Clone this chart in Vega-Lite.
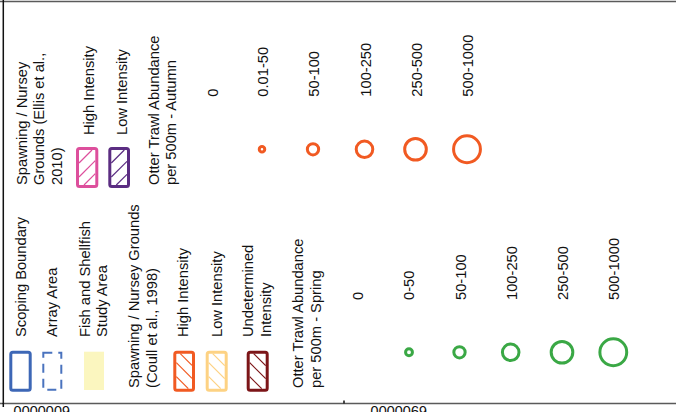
{
  "$schema": "https://vega.github.io/schema/vega-lite/v6.json",
  "width": 676,
  "height": 412,
  "autosize": {"type": "none"},
  "padding": 0,
  "background": "white",
  "config": {"view": {"stroke": null}},
  "datasets": {
    "frame": [
      {"x": 0, "y": 1.6, "x2": 676, "y2": 1.6, "key": "grey"},
      {"x": 0, "y": 403.5, "x2": 676, "y2": 403.5, "key": "grey"},
      {"x": 3.3, "y": 0, "x2": 3.3, "y2": 404, "key": "black"},
      {"x": 3.3, "y": 403, "x2": 3.3, "y2": 407, "key": "black"},
      {"x": 344, "y": 400.5, "x2": 344, "y2": 403.5, "key": "black"}
    ],
    "swatches": [
      {"item": "Scoping Boundary", "x": 10.8, "x2": 30.2, "y": 352.2, "y2": 390.2, "key": "blue"},
      {"item": "High Intensity (Coull)", "x": 174.8, "x2": 193.5, "y": 352.2, "y2": 390.2, "key": "orange"},
      {"item": "Low Intensity (Coull)", "x": 207.2, "x2": 226.2, "y": 352.2, "y2": 390.2, "key": "lightorange"},
      {"item": "Undetermined Intensity", "x": 248.2, "x2": 267.2, "y": 352.2, "y2": 390.2, "key": "darkred"},
      {"item": "High Intensity (Ellis)", "x": 77.5, "x2": 96.8, "y": 148.5, "y2": 186.5, "key": "pink"},
      {"item": "Low Intensity (Ellis)", "x": 109.8, "x2": 128.5, "y": 148.5, "y2": 186.5, "key": "purple"}
    ],
    "dashed": [
      {"item": "Array Area", "x": 43.3, "x2": 61.3, "y": 352.7, "y2": 389.7, "key": "blue2"}
    ],
    "filledrect": [
      {"item": "Fish and Shellfish Study Area", "x": 84, "x2": 104, "y": 351.7, "y2": 390}
    ],
    "hatch": [
      {"x": 180.3, "y": 353.7, "x2": 192, "y2": 365.4, "key": "orange"},
      {"x": 176.3, "y": 362.7, "x2": 192, "y2": 378.4, "key": "orange"},
      {"x": 176.3, "y": 376.7, "x2": 188.3, "y2": 388.7, "key": "orange"},
      {"x": 212.7, "y": 353.7, "x2": 224.7, "y2": 365.7, "key": "lightorange"},
      {"x": 208.7, "y": 362.7, "x2": 224.7, "y2": 378.7, "key": "lightorange"},
      {"x": 208.7, "y": 376.7, "x2": 220.7, "y2": 388.7, "key": "lightorange"},
      {"x": 253.7, "y": 353.7, "x2": 265.7, "y2": 365.7, "key": "darkred"},
      {"x": 249.7, "y": 362.7, "x2": 265.7, "y2": 378.7, "key": "darkred"},
      {"x": 249.7, "y": 376.7, "x2": 261.7, "y2": 388.7, "key": "darkred"},
      {"x": 79, "y": 163, "x2": 92, "y2": 150, "key": "pink"},
      {"x": 79, "y": 177, "x2": 95.3, "y2": 160.7, "key": "pink"},
      {"x": 84, "y": 185, "x2": 95.3, "y2": 173.7, "key": "pink"},
      {"x": 111.3, "y": 163, "x2": 124.3, "y2": 150, "key": "purple"},
      {"x": 111.3, "y": 177, "x2": 127, "y2": 161.3, "key": "purple"},
      {"x": 116.3, "y": 185, "x2": 127, "y2": 174.3, "key": "purple"}
    ],
    "circles": [
      {"season": "Autumn", "cls": "0.01-50", "lower": 0.01, "x": 262, "y": 149.3, "key": "autumn"},
      {"season": "Autumn", "cls": "50-100", "lower": 50, "x": 313, "y": 149.3, "key": "autumn"},
      {"season": "Autumn", "cls": "100-250", "lower": 100, "x": 364.5, "y": 149.3, "key": "autumn"},
      {"season": "Autumn", "cls": "250-500", "lower": 250, "x": 415.5, "y": 149.3, "key": "autumn"},
      {"season": "Autumn", "cls": "500-1000", "lower": 500, "x": 467, "y": 149.3, "key": "autumn"},
      {"season": "Spring", "cls": "0-50", "lower": 0, "x": 409, "y": 352.3, "key": "spring"},
      {"season": "Spring", "cls": "50-100", "lower": 50, "x": 459.5, "y": 352.3, "key": "spring"},
      {"season": "Spring", "cls": "100-250", "lower": 100, "x": 510.7, "y": 352.3, "key": "spring"},
      {"season": "Spring", "cls": "250-500", "lower": 250, "x": 562, "y": 352.3, "key": "spring"},
      {"season": "Spring", "cls": "500-1000", "lower": 500, "x": 613.3, "y": 352.3, "key": "spring"}
    ],
    "labels": [
      {"label": "Scoping Boundary", "x": 26, "y": 337},
      {"label": "Array Area", "x": 57.3, "y": 337},
      {"label": "Fish and Shellfish", "x": 90, "y": 337},
      {"label": "Study Area", "x": 107.3, "y": 337},
      {"label": "Spawning / Nursey Grounds", "x": 139.3, "y": 388},
      {"label": "(Coull et al., 1998)", "x": 156.5, "y": 388},
      {"label": "High Intensity", "x": 188, "y": 337},
      {"label": "Low Intensity", "x": 221.5, "y": 337},
      {"label": "Undetermined", "x": 253, "y": 337},
      {"label": "Intensity", "x": 270.5, "y": 337},
      {"label": "Otter Trawl Abundance", "x": 303, "y": 388},
      {"label": "per 500m - Spring", "x": 320.5, "y": 388},
      {"label": "0", "x": 363.3, "y": 300},
      {"label": "0-50", "x": 414, "y": 300},
      {"label": "50-100", "x": 466, "y": 300},
      {"label": "100-250", "x": 516.7, "y": 300},
      {"label": "250-500", "x": 568, "y": 300},
      {"label": "500-1000", "x": 619, "y": 300},
      {"label": "Spawning / Nursey", "x": 26.7, "y": 185},
      {"label": "Grounds (Ellis et al.,", "x": 44, "y": 185},
      {"label": "2010)", "x": 61.5, "y": 185},
      {"label": "High Intensity", "x": 94, "y": 135},
      {"label": "Low Intensity", "x": 126.7, "y": 135},
      {"label": "Otter Trawl Abundance", "x": 158.5, "y": 185},
      {"label": "per 500m - Autumn", "x": 176, "y": 185},
      {"label": "0", "x": 218, "y": 96.7},
      {"label": "0.01-50", "x": 268, "y": 96.7},
      {"label": "50-100", "x": 319, "y": 96.7},
      {"label": "100-250", "x": 371, "y": 96.7},
      {"label": "250-500", "x": 421.7, "y": 96.7},
      {"label": "500-1000", "x": 473, "y": 96.7}
    ],
    "gridlabels": [
      {"label": "6000000", "x": 70, "y": 406},
      {"label": "6900000", "x": 427, "y": 406}
    ]
  },
  "encoding": {
    "x": {"field": "x", "type": "quantitative", "scale": {"domain": [0, 676], "nice": false, "zero": false}, "axis": null},
    "y": {"field": "y", "type": "quantitative", "scale": {"domain": [0, 412], "nice": false, "zero": false, "reverse": true}, "axis": null}
  },
  "layer": [
    {
      "data": {"name": "filledrect"},
      "mark": {"type": "rect", "fill": "#fbf6bf", "stroke": null},
      "encoding": {
        "x2": {"field": "x2"},
        "y2": {"field": "y2"}
      }
    },
    {
      "data": {"name": "frame"},
      "mark": {"type": "rule", "strokeWidth": 1.5},
      "encoding": {
        "x2": {"field": "x2"},
        "y2": {"field": "y2"},
        "stroke": {"field": "key", "type": "nominal", "legend": null,
          "scale": {"domain": ["grey", "black", "blue", "blue2", "orange", "lightorange", "darkred", "pink", "purple", "autumn", "spring"],
                    "range": ["#5a5a5a", "#111111", "#3d67b6", "#4a73be", "#f15a22", "#fdd283", "#7c1518", "#dd4f9c", "#5b2d82", "#f15a22", "#3aa845"]}}
      }
    },
    {
      "data": {"name": "hatch"},
      "mark": {"type": "rule", "strokeWidth": 1.2},
      "encoding": {
        "x2": {"field": "x2"},
        "y2": {"field": "y2"},
        "stroke": {"field": "key", "type": "nominal", "legend": null}
      }
    },
    {
      "data": {"name": "swatches"},
      "mark": {"type": "rect", "fillOpacity": 0, "strokeWidth": 3, "cornerRadius": 2},
      "encoding": {
        "x2": {"field": "x2"},
        "y2": {"field": "y2"},
        "stroke": {"field": "key", "type": "nominal", "legend": null}
      }
    },
    {
      "data": {"name": "dashed"},
      "mark": {"type": "rect", "fillOpacity": 0, "strokeWidth": 2, "strokeDash": [9, 6]},
      "encoding": {
        "x2": {"field": "x2"},
        "y2": {"field": "y2"},
        "stroke": {"field": "key", "type": "nominal", "legend": null}
      }
    },
    {
      "data": {"name": "circles"},
      "mark": {"type": "point", "shape": "circle", "filled": false, "strokeWidth": 3, "opacity": 1},
      "encoding": {
        "stroke": {"field": "key", "type": "nominal", "legend": null},
        "size": {"field": "lower", "type": "quantitative", "legend": null,
          "scale": {"type": "threshold", "domain": [0.005, 25, 75, 175, 375],
                    "range": [47, 30, 128, 275, 468, 721]}}
      }
    },
    {
      "data": {"name": "labels"},
      "mark": {"type": "text", "angle": 270, "align": "left", "baseline": "alphabetic", "font": "Liberation Sans", "fontSize": 14.7, "fill": "#111111"},
      "encoding": {
        "text": {"field": "label", "type": "nominal"}
      }
    },
    {
      "data": {"name": "gridlabels"},
      "mark": {"type": "text", "angle": 180, "align": "left", "baseline": "alphabetic", "font": "Liberation Sans", "fontSize": 14.5, "fill": "#111111"},
      "encoding": {
        "text": {"field": "label", "type": "nominal"}
      }
    }
  ]
}
